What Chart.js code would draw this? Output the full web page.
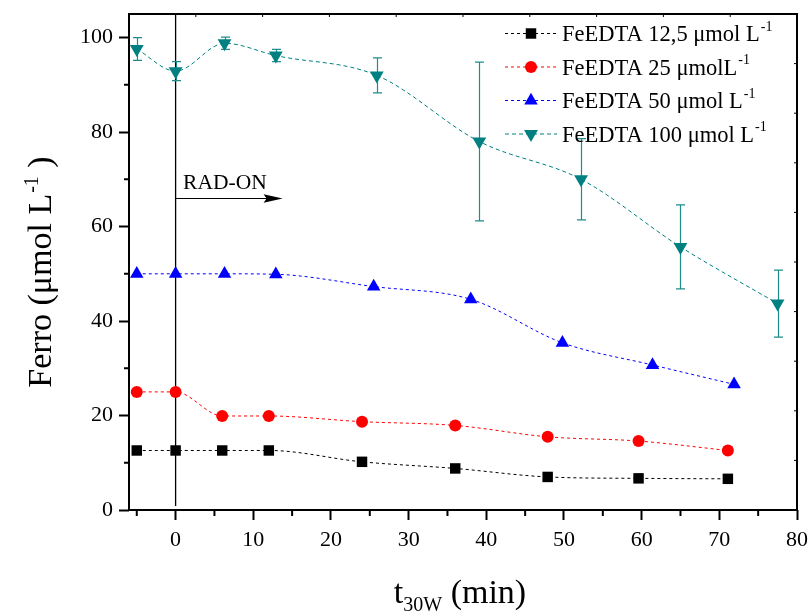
<!DOCTYPE html>
<html>
<head>
<meta charset="utf-8">
<script src="https://cdn.jsdelivr.net/npm/chart.js"></script>
<style>
  html, body { margin: 0; padding: 0; background: #fff; }
  #wrap { width: 811px; height: 614px; position: relative; }
</style>
</head>
<body>
<div id="wrap"><canvas id="c" width="811" height="614"></canvas></div>
<script>
// Time axis (min) and Fe(II) concentrations (µmol L-1) for each FeEDTA dose
const tLow  = [-5, 0, 6, 12, 24, 36, 47.9, 59.6, 71.1];
const fe12  = [12.6, 12.6, 12.6, 12.6, 10.2, 8.8, 7.0, 6.7, 6.6];
const fe25  = [25.0, 25.0, 19.9, 19.9, 18.7, 17.9, 15.5, 14.6, 12.6];
const tMid  = [-5, 0, 6.3, 12.9, 25.5, 38.0, 49.8, 61.4, 71.9];
const fe50  = [50.0, 50.0, 50.0, 49.9, 47.3, 44.6, 35.4, 30.7, 26.6];
const tHigh = [-5, 0, 6.3, 12.9, 25.9, 39.1, 52.2, 65.0, 77.5];
const fe100 = [97.6, 92.9, 98.8, 96.2, 92.0, 78.0, 70.0, 55.7, 43.7];
const fe100Err = [2.4, 2.0, 1.3, 1.3, 3.7, 16.8, 8.6, 8.9, 7.1];

// Legend texts (main part + superscript)
const seriesLabels = ['FeEDTA 12,5 \u03bcmol L', 'FeEDTA 25 \u03bcmolL', 'FeEDTA 50 \u03bcmol L', 'FeEDTA 100 \u03bcmol L'];
const seriesSup = ['-1', '-1', '-1', '-1'];

// Axis ticks
const xTickValues = [0, 10, 20, 30, 40, 50, 60, 70, 80];
const xMinorValues = [-5, 5, 15, 25, 35, 45, 55, 65, 75];
const yTickValues = [0, 20, 40, 60, 80, 100];
const yMinorValues = [10, 30, 50, 70, 90];

// Annotation text and axis titles
const radOnLabel = 'RAD-ON';
const radOnAt = 0;
const yTitle = ['Ferro (\u03bcmol L', '-1', ' )'];
const xTitle = ['t', '30W', ' (min)'];

const SERIF = '"Liberation Serif", "Times New Roman", serif';

function pts(xs, ys) { return xs.map((x, i) => ({ x: x, y: ys[i] })); }

// Marker drawing for the legend samples (same shapes as Chart.js point styles)
function drawMarker(ctx, style, rotation, r, x, y, color) {
  ctx.save();
  ctx.fillStyle = color;
  ctx.beginPath();
  if (style === 'rect') {
    const s = Math.SQRT1_2 * r;
    ctx.rect(x - s, y - s, 2 * s, 2 * s);
  } else if (style === 'circle') {
    ctx.arc(x, y, r, 0, Math.PI * 2);
  } else {
    let a = rotation * Math.PI / 180;
    for (let k = 0; k < 3; k++) {
      const px = x + Math.sin(a) * r, py = y - Math.cos(a) * r;
      if (k === 0) ctx.moveTo(px, py); else ctx.lineTo(px, py);
      a += 2 * Math.PI / 3;
    }
    ctx.closePath();
  }
  ctx.fill();
  ctx.restore();
}

const decor = {
  id: 'decor',
  beforeDatasetsDraw(chart) {
    const ctx = chart.ctx, xs = chart.scales.x, ys = chart.scales.y, a = chart.chartArea;
    // Vertical marker at lamp switch-on
    const x0 = xs.getPixelForValue(radOnAt);
    ctx.save();
    ctx.strokeStyle = '#000';
    ctx.lineWidth = 1.3;
    ctx.beginPath();
    ctx.moveTo(x0, a.top);
    ctx.lineTo(x0, a.bottom - 4);
    ctx.stroke();
    ctx.restore();

    // Error bars for the 100 µmol series
    ctx.save();
    ctx.strokeStyle = '#1f8c8c';
    ctx.lineWidth = 1.2;
    tHigh.forEach((t, i) => {
      const px = Math.round(xs.getPixelForValue(t)) + 0.5;
      const top = ys.getPixelForValue(fe100[i] + fe100Err[i]);
      const bot = ys.getPixelForValue(fe100[i] - fe100Err[i]);
      ctx.beginPath();
      ctx.moveTo(px, top); ctx.lineTo(px, bot);
      ctx.moveTo(px - 4.5, top); ctx.lineTo(px + 4.5, top);
      ctx.moveTo(px - 4.5, bot); ctx.lineTo(px + 4.5, bot);
      ctx.stroke();
    });
    ctx.restore();
  },
  afterDatasetsDraw(chart) {
    const ctx = chart.ctx, xs = chart.scales.x, ys = chart.scales.y, a = chart.chartArea;
    ctx.save();
    ctx.strokeStyle = '#000';

    // Minor ticks (outside)
    ctx.lineWidth = 2;
    ctx.beginPath();
    xMinorValues.forEach(v => {
      const p = xs.getPixelForValue(v);
      ctx.moveTo(p, a.bottom); ctx.lineTo(p, a.bottom + 6);
    });
    yMinorValues.forEach(v => {
      const p = ys.getPixelForValue(v);
      ctx.moveTo(a.left, p); ctx.lineTo(a.left - 5, p);
    });
    ctx.stroke();

    // Small inward ticks on top and right frame edges
    ctx.lineWidth = 1;
    ctx.beginPath();
    for (let k = 1; k < 10; k++) {
      const px = a.left + (a.right - a.left) * k / 10;
      ctx.moveTo(px, a.top); ctx.lineTo(px, a.top + 3);
      const py = a.top + (a.bottom - a.top) * k / 10;
      ctx.moveTo(a.right, py); ctx.lineTo(a.right - 3, py);
    }
    ctx.stroke();

    // Frame
    ctx.lineWidth = 2;
    ctx.strokeRect(a.left, a.top, a.right - a.left, a.bottom - a.top);

    // RAD-ON label and arrow
    const x0 = xs.getPixelForValue(radOnAt);
    ctx.fillStyle = '#000';
    ctx.font = '21.5px ' + SERIF;
    ctx.textBaseline = 'alphabetic';
    ctx.textAlign = 'left';
    ctx.fillText(radOnLabel, x0 + 7.5, 188.5);
    ctx.lineWidth = 1.2;
    ctx.beginPath();
    ctx.moveTo(x0, 198.5); ctx.lineTo(x0 + 92, 198.5);
    ctx.stroke();
    ctx.beginPath();
    ctx.moveTo(x0 + 107, 198.5);
    ctx.lineTo(x0 + 88, 194.3);
    ctx.lineTo(x0 + 91, 198.5);
    ctx.lineTo(x0 + 88, 202.7);
    ctx.closePath();
    ctx.fill();

    // Legend
    const rows = [33.5, 67, 100.5, 134];
    chart.data.datasets.forEach((ds, i) => {
      const y = rows[i];
      ctx.save();
      ctx.strokeStyle = ds.borderColor;
      ctx.lineWidth = 1;
      ctx.setLineDash(ds.borderDash);
      ctx.beginPath();
      ctx.moveTo(505, y); ctx.lineTo(557, y);
      ctx.stroke();
      ctx.restore();
      drawMarker(ctx, ds.pointStyle, ds.pointRotation || 0, ds.pointRadius, 531, y, ds.pointBackgroundColor);
      ctx.fillStyle = '#000';
      ctx.font = '22.5px ' + SERIF;
      ctx.fillText(seriesLabels[i], 562, y + 7.5);
      const w = ctx.measureText(seriesLabels[i]).width;
      ctx.font = '14px ' + SERIF;
      ctx.fillText(seriesSup[i], 562 + w + 1, y - 3);
    });

    // Axis titles
    ctx.font = '34px ' + SERIF;
    const w1 = ctx.measureText(yTitle[0]).width;
    ctx.font = '20px ' + SERIF;
    const w2 = ctx.measureText(yTitle[1]).width;
    ctx.font = '34px ' + SERIF;
    const w3 = ctx.measureText(yTitle[2]).width;
    const total = w1 + w2 + w3 + 1;
    ctx.save();
    ctx.translate(51, 272 + total / 2);
    ctx.rotate(-Math.PI / 2);
    ctx.fillText(yTitle[0], 0, 0);
    ctx.font = '20px ' + SERIF;
    ctx.fillText(yTitle[1], w1 + 1, -13);
    ctx.font = '34px ' + SERIF;
    ctx.fillText(yTitle[2], w1 + w2 + 1, 0);
    ctx.restore();

    ctx.font = '34px ' + SERIF;
    const t1 = ctx.measureText(xTitle[0]).width;
    ctx.font = '20px ' + SERIF;
    const t2 = ctx.measureText(xTitle[1]).width;
    ctx.font = '34px ' + SERIF;
    const t3 = ctx.measureText(xTitle[2]).width;
    let xs0 = (a.left + a.right) / 2 - (t1 + t2 + t3) / 2 - 3;
    ctx.fillText(xTitle[0], xs0, 603);
    ctx.font = '20px ' + SERIF;
    ctx.fillText(xTitle[1], xs0 + t1, 611);
    ctx.font = '34px ' + SERIF;
    ctx.fillText(xTitle[2], xs0 + t1 + t2, 603);
    ctx.restore();
  }
};

const common = { showLine: true, cubicInterpolationMode: 'monotone', borderWidth: 1, pointBorderWidth: 0, pointHoverRadius: 0 };

new Chart(document.getElementById('c'), {
  type: 'scatter',
  data: {
    datasets: [
      Object.assign({}, common, {
        label: seriesLabels[0], data: pts(tLow, fe12),
        borderColor: '#000000', borderDash: [3, 3],
        pointStyle: 'rect', pointRadius: 7.4, pointBackgroundColor: '#000000', pointBorderColor: '#000000'
      }),
      Object.assign({}, common, {
        label: seriesLabels[1], data: pts(tLow, fe25),
        borderColor: '#ff0000', borderDash: [3, 3],
        pointStyle: 'circle', pointRadius: 6, pointBackgroundColor: '#ff0000', pointBorderColor: '#ff0000'
      }),
      Object.assign({}, common, {
        label: seriesLabels[2], data: pts(tMid, fe50),
        borderColor: '#0000ff', borderDash: [3, 3],
        pointStyle: 'triangle', pointRadius: 7.8, pointBackgroundColor: '#0000ff', pointBorderColor: '#0000ff'
      }),
      Object.assign({}, common, {
        label: seriesLabels[3], data: pts(tHigh, fe100),
        borderColor: '#008080', borderDash: [4, 3],
        pointStyle: 'triangle', pointRotation: 180, pointRadius: 8, pointBackgroundColor: '#008080', pointBorderColor: '#008080'
      })
    ]
  },
  options: {
    responsive: false,
    animation: false,
    events: [],
    layout: { padding: { top: 14, right: 14, left: 0, bottom: 0 } },
    plugins: { legend: { display: false }, tooltip: { enabled: false } },
    scales: {
      x: {
        type: 'linear', min: -6, max: 80,
        afterBuildTicks(scale) { scale.ticks = xTickValues.map(v => ({ value: v })); },
        afterFit(scale) { scale.height = 104; scale.paddingLeft = 0; scale.paddingRight = 0; },
        border: { display: false },
        grid: { drawOnChartArea: false, drawTicks: true, tickLength: 10, tickWidth: 2, tickColor: '#000' },
        ticks: { color: '#000', padding: 7, maxRotation: 0, font: { family: SERIF, size: 22 } }
      },
      y: {
        type: 'linear', min: 0, max: 105,
        afterBuildTicks(scale) { scale.ticks = yTickValues.map(v => ({ value: v })); },
        afterFit(scale) { scale.width = 129; scale.paddingTop = 0; scale.paddingBottom = 0; },
        border: { display: false },
        grid: { drawOnChartArea: false, drawTicks: true, tickLength: 10, tickWidth: 2, tickColor: '#000' },
        ticks: { color: '#000', padding: 6, font: { family: SERIF, size: 22 } }
      }
    }
  },
  plugins: [decor]
});
</script>
</body>
</html>
